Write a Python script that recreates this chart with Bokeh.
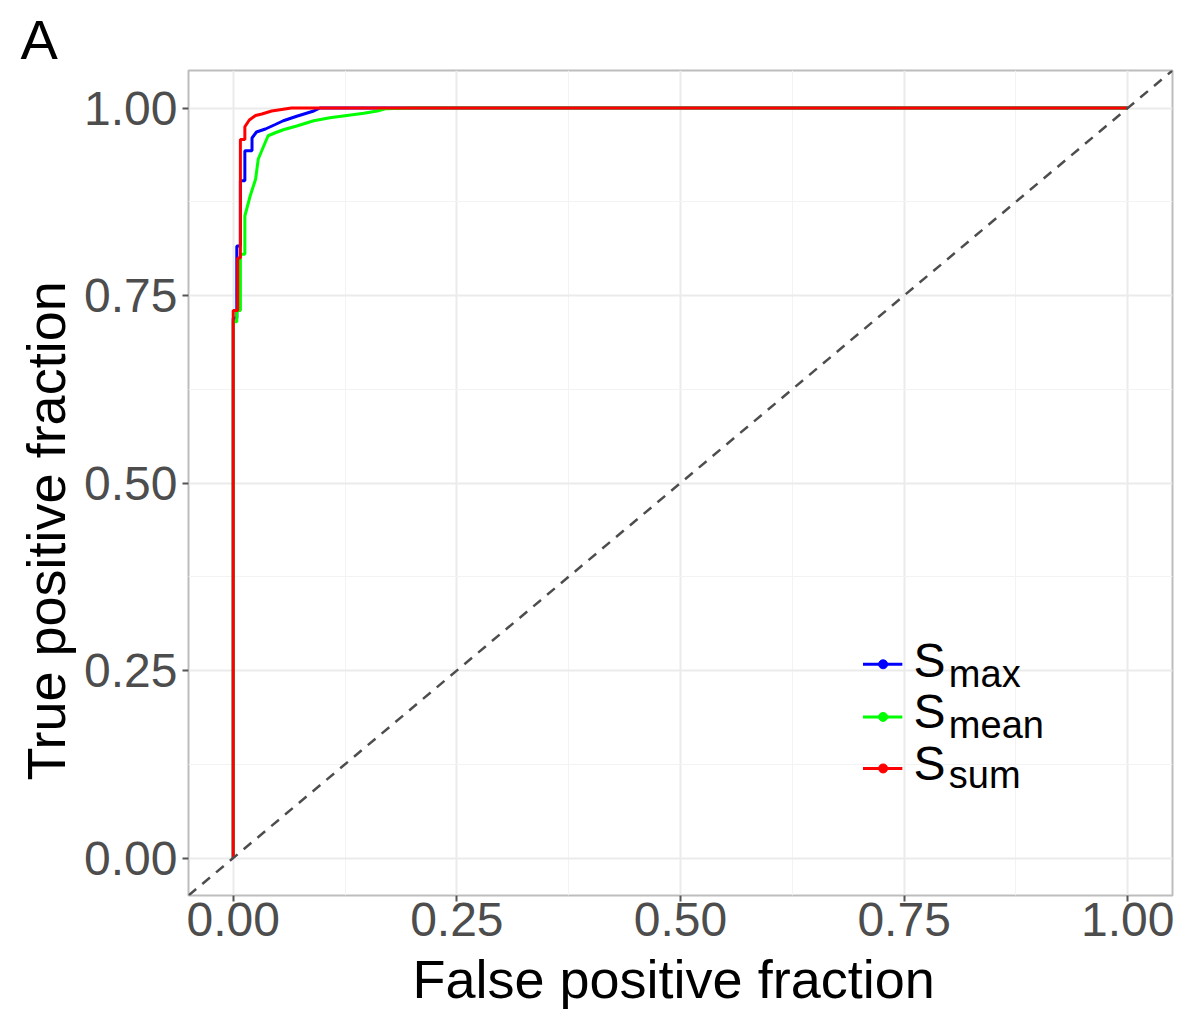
from bokeh.plotting import figure
from bokeh.models import Range1d, FixedTicker, Slope, Label, Title
from bokeh.embed import file_html
from bokeh.resources import INLINE

# ---- data ----
fpr_max = [0, 0, 0.004, 0.004, 0.008, 0.008, 0.013, 0.013, 0.021, 0.021, 0.026, 0.036, 0.047, 0.056, 0.071, 0.090, 0.097, 1.0]
tpr_max = [0, 0.72, 0.72, 0.816, 0.816, 0.903, 0.903, 0.943, 0.943, 0.960, 0.968, 0.972, 0.978, 0.983, 0.989, 0.996, 1.0, 1.0]

fpr_mean = [0, 0, 0.004, 0.004, 0.008, 0.008, 0.013, 0.013, 0.019, 0.025, 0.028, 0.034, 0.039, 0.047, 0.056, 0.071, 0.090, 0.108, 0.127, 0.146, 0.161, 0.170, 0.200, 1.0]
tpr_mean = [0, 0.715, 0.715, 0.73, 0.73, 0.805, 0.805, 0.856, 0.883, 0.905, 0.932, 0.949, 0.963, 0.967, 0.971, 0.976, 0.983, 0.987, 0.990, 0.993, 0.996, 0.999, 1.0, 1.0]

fpr_sum = [0, 0, 0.005, 0.005, 0.008, 0.008, 0.013, 0.013, 0.018, 0.025, 0.032, 0.043, 0.054, 0.065, 1.0]
tpr_sum = [0, 0.73, 0.73, 0.80, 0.80, 0.958, 0.958, 0.975, 0.984, 0.990, 0.992, 0.996, 0.998, 1.0, 1.0]

series_names = ["max", "mean", "sum"]
series_colors = ["#0000FF", "#00FF00", "#FF0000"]
x_ticks = [0, 0.25, 0.5, 0.75, 1.0]
y_ticks = [0, 0.25, 0.5, 0.75, 1.0]
tick_labels = {0: "0.00", 0.25: "0.25", 0.5: "0.50", 0.75: "0.75", 1.0: "1.00"}
minor = [0.125, 0.375, 0.625, 0.875]
x_title = "False positive fraction"
y_title = "True positive fraction"

FONT = "Liberation Sans"

p = figure(width=1176, height=1032, output_backend="svg", toolbar_location=None,
           x_range=Range1d(-0.05, 1.05), y_range=Range1d(-0.05, 1.05),
           min_border_left=188, min_border_right=4, min_border_top=70, min_border_bottom=137,
           background_fill_color="white", border_fill_color="white")

p.title = Title(text="A", text_font=FONT, text_font_size="56px", text_font_style="normal",
                text_color="#000000", align="left", offset=-168, standoff=0)

p.outline_line_color = "#BDBDBD"
p.outline_line_width = 2

for ax, ticks in ((p.xaxis, x_ticks), (p.yaxis, y_ticks)):
    ax.ticker = FixedTicker(ticks=ticks, minor_ticks=minor)
    ax.major_label_overrides = {t: tick_labels[t] for t in ticks}
    ax.axis_line_color = None
    ax.major_tick_line_color = "#555555"
    ax.major_tick_line_width = 2
    ax.major_tick_out = 6
    ax.major_tick_in = 0
    ax.minor_tick_line_color = None
    ax.major_label_text_font = FONT
    ax.major_label_text_font_size = "48px"
    ax.major_label_text_color = "#4D4D4D"

p.xaxis.major_label_standoff = 1
p.yaxis.major_label_standoff = 5

# axis titles as side titles (positioned like the reference)
p.add_layout(Title(text=x_title, text_font=FONT, text_font_size="54px", text_font_style="normal",
                   text_color="#000000", align="left", offset=224, standoff=16), "below")
p.add_layout(Title(text=y_title, text_font=FONT, text_font_size="54px", text_font_style="normal",
                   text_color="#000000", align="left", offset=115, standoff=12), "left")

for g in (p.xgrid, p.ygrid):
    g.grid_line_color = "#EBEBEB"
    g.grid_line_width = 2
    g.minor_grid_line_color = "#F3F3F3"
    g.minor_grid_line_width = 1

# diagonal reference
p.add_layout(Slope(gradient=1, y_intercept=0, line_color="#4D4D4D", line_width=2.5, line_dash="10 8"))

xs = [fpr_max, fpr_mean, fpr_sum]
ys = [tpr_max, tpr_mean, tpr_sum]
for x, y, c in zip(xs, ys, series_colors):
    p.line(x, y, line_color=c, line_width=3)

# legend drawn manually (S with subscript)
key_y = [0.2583, 0.1881, 0.1194]
s_base = [0.264, 0.1953, 0.1265]
sub_base = [0.246, 0.177, 0.1105]
for name, c, ky, sb, bb in zip(series_names, series_colors, key_y, s_base, sub_base):
    p.line([0.704, 0.748], [ky, ky], line_color=c, line_width=3)
    p.scatter([0.7265], [ky], size=9, fill_color=c, line_color=c)
    p.add_layout(Label(x=0.7606, y=sb, text="S", text_font=FONT, text_font_size="48px",
                       text_color="#000000", text_baseline="alphabetic"))
    p.add_layout(Label(x=0.800, y=bb, text=name, text_font=FONT, text_font_size="38px",
                       text_color="#000000", text_baseline="alphabetic"))

open("out.html", "w").write(file_html(p, INLINE))
